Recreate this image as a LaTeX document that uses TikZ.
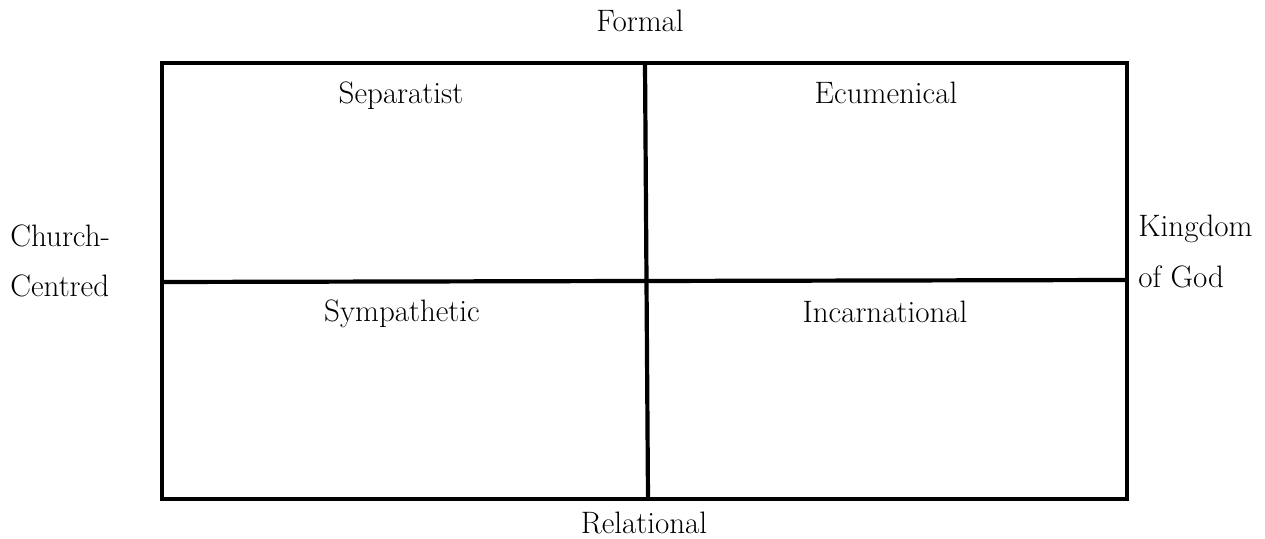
\documentclass[tikz,border=0pt]{standalone}
\begin{document}
\begin{tikzpicture}[x=0.5pt,y=-0.5pt,
  lbl/.style={inner sep=0pt,font=\fontsize{15.5}{18}\selectfont},
  grid/.style={line width=2.1pt,black}]
\useasboundingbox (0,0) rectangle (1265,539);
% outer frame corners and divider ends
\coordinate (tl) at (162,63);
\coordinate (br) at (1127,499);
\coordinate (vt) at (645,63);
\coordinate (vb) at (648,499);
\coordinate (hl) at (162,282);
\coordinate (hr) at (1127,280);
\draw[grid] (tl) rectangle (br);
\draw[grid] (vt) -- (vb);
\draw[grid] (hl) -- (hr);
% axis labels
\node[lbl,anchor=base] (formal) at (640,32) {Formal};
\node[lbl,anchor=base] (relational) at (644,534) {Relational};
\node[lbl,anchor=base west] (church) at (10,247) {Church-};
\node[lbl,anchor=base west] (centred) at (10,297) {Centred};
\node[lbl,anchor=base west] (kingdom) at (1138,237) {Kingdom};
\node[lbl,anchor=base west] (ofgod) at (1138,288) {of God};
% quadrant labels
\node[lbl,anchor=base] (separatist) at (401,104) {Separatist};
\node[lbl,anchor=base] (ecumenical) at (886,104) {Ecumenical};
\node[lbl,anchor=base] (sympathetic) at (402,322) {Sympathetic};
\node[lbl,anchor=base] (incarnational) at (885,323) {Incarnational};
\end{tikzpicture}
\end{document}
